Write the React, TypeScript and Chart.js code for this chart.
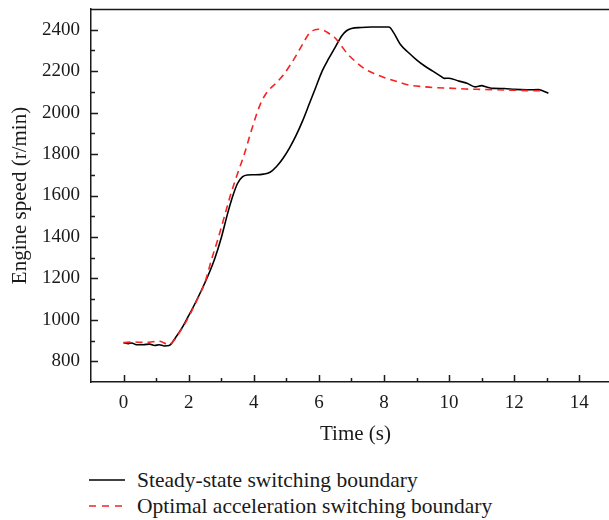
import React, { useEffect, useRef } from "react";
import { Chart, registerables } from "chart.js";

Chart.register(...registerables);

// Steady-state switching boundary (time s, engine speed r/min)
const steadyTime = [0, 0.15, 0.25, 0.4, 0.6, 0.8, 0.95, 1.1, 1.25, 1.4, 1.6, 1.8, 2.0, 2.2, 2.4, 2.6, 2.8, 3.0, 3.2, 3.35, 3.5, 3.65, 3.8, 4.0, 4.3, 4.5, 4.7, 4.9, 5.1, 5.3, 5.5, 5.7, 5.9, 6.1, 6.3, 6.5, 6.7, 6.85, 7.0, 7.3, 7.6, 7.9, 8.15, 8.3, 8.5, 8.75, 9.0, 9.25, 9.5, 9.75, 9.85, 10.0, 10.3, 10.55, 10.8, 11.0, 11.15, 11.35, 11.7, 12.0, 12.4, 12.75, 12.85, 13.05];
const steadySpeed = [890, 885, 888, 880, 880, 883, 876, 880, 874, 876, 915, 962, 1020, 1080, 1145, 1215, 1295, 1395, 1515, 1595, 1658, 1690, 1699, 1700, 1703, 1712, 1740, 1780, 1830, 1890, 1960, 2040, 2120, 2200, 2260, 2315, 2370, 2395, 2406, 2411, 2413, 2413, 2413, 2385, 2330, 2290, 2255, 2225, 2200, 2175, 2165, 2166, 2152, 2142, 2124, 2130, 2124, 2117, 2116, 2112, 2110, 2111, 2107, 2093];

// Optimal acceleration switching boundary
const optimalTime = [0, 0.3, 0.6, 0.9, 1.1, 1.25, 1.35, 1.5, 1.7, 1.9, 2.1, 2.3, 2.5, 2.7, 2.9, 3.1, 3.3, 3.5, 3.7, 3.9, 4.05, 4.2, 4.35, 4.5, 4.7, 4.9, 5.1, 5.3, 5.5, 5.7, 5.85, 6.0, 6.15, 6.3, 6.5, 6.7, 6.9, 7.1, 7.4, 7.7, 8.0, 8.4, 8.8, 9.2, 9.6, 10.0, 10.5, 11.0, 11.5, 12.0, 12.5, 12.9];
const optimalSpeed = [890, 893, 891, 894, 897, 888, 880, 892, 935, 985, 1045, 1110, 1180, 1290, 1390, 1500, 1610, 1705, 1795, 1900, 1975, 2040, 2085, 2115, 2145, 2180, 2225, 2275, 2330, 2382, 2398, 2402, 2397, 2383, 2360, 2320, 2280, 2250, 2212, 2188, 2170, 2150, 2132, 2125, 2120, 2118, 2114, 2112, 2110, 2108, 2106, 2105];

const xTicks = [0, 2, 4, 6, 8, 10, 12, 14];
const xMinorTicks = [1, 3, 5, 7, 9, 11, 13, 15];
const yTicks = [800, 1000, 1200, 1400, 1600, 1800, 2000, 2200, 2400];
const yMinorTicks = [900, 1100, 1300, 1500, 1700, 1900, 2100, 2300];

const seriesNames = ["Steady-state switching boundary", "Optimal acceleration switching boundary"];
const xTitle = "Time (s)";
const yTitle = "Engine speed (r/min)";

const FONT = "'Liberation Serif', 'Times New Roman', serif";
const AXIS_COLOR = "#1a1a1a";
const TEXT_COLOR = "#1a1a1a";
const RED = "rgb(245,35,35)";

const inwardTicks = {
  id: "inwardTicks",
  afterDraw(chart: any) {
    const { ctx, chartArea, scales } = chart;
    const xs = scales.x;
    const ys = scales.y;
    ctx.save();
    ctx.strokeStyle = AXIS_COLOR;
    ctx.lineWidth = 1.5;
    ctx.beginPath();
    // top border
    ctx.moveTo(chartArea.left, chartArea.top + 0.5);
    ctx.lineTo(chartArea.right, chartArea.top + 0.5);
    const b = chartArea.bottom;
    const l = chartArea.left;
    xTicks.forEach((v) => {
      const p = Math.round(xs.getPixelForValue(v)) + 0.5;
      ctx.moveTo(p, b);
      ctx.lineTo(p, b - 7);
    });
    xMinorTicks.forEach((v) => {
      const p = Math.round(xs.getPixelForValue(v)) + 0.5;
      ctx.moveTo(p, b);
      ctx.lineTo(p, b - 4);
    });
    yTicks.forEach((v) => {
      const p = Math.round(ys.getPixelForValue(v)) + 0.5;
      ctx.moveTo(l, p);
      ctx.lineTo(l + 7, p);
    });
    yMinorTicks.forEach((v) => {
      const p = Math.round(ys.getPixelForValue(v)) + 0.5;
      ctx.moveTo(l, p);
      ctx.lineTo(l + 4, p);
    });
    ctx.stroke();
    ctx.restore();
  },
};

function LegendRow({ dashed, color, label, top }: { dashed: boolean; color: string; label: string; top: number }) {
  return (
    <div style={{ position: "absolute", left: 0, top: top - 14, height: 28, width: 609 }}>
      <svg width={36} height={28} style={{ position: "absolute", left: 89, top: 0 }}>
        <line x1={0} y1={14} x2={36} y2={14} stroke={color} strokeWidth={1.5} strokeDasharray={dashed ? "7 6" : undefined} />
      </svg>
      <span
        style={{
          position: "absolute",
          left: 137,
          top: 0,
          lineHeight: "28px",
          fontFamily: FONT,
          fontSize: 21.5,
          color: TEXT_COLOR,
          whiteSpace: "nowrap",
        }}
      >
        {label}
      </span>
    </div>
  );
}

export default function App() {
  const canvasRef = useRef<HTMLCanvasElement | null>(null);

  useEffect(() => {
    if (!canvasRef.current) return;
    const chart = new Chart(canvasRef.current, {
      type: "line",
      data: {
        datasets: [
          {
            label: seriesNames[0],
            data: steadyTime.map((t, i) => ({ x: t, y: steadySpeed[i] })),
            borderColor: "#000000",
            borderWidth: 1.6,
            pointRadius: 0,
            tension: 0.3,
            cubicInterpolationMode: "monotone",
            fill: false,
            order: 2,
          },
          {
            label: seriesNames[1],
            data: optimalTime.map((t, i) => ({ x: t, y: optimalSpeed[i] })),
            borderColor: RED,
            borderWidth: 1.6,
            borderDash: [7, 5],
            pointRadius: 0,
            tension: 0.3,
            cubicInterpolationMode: "monotone",
            fill: false,
            order: 1,
          },
        ],
      },
      options: {
        animation: false,
        responsive: true,
        maintainAspectRatio: false,
        layout: { padding: { left: 0, right: 0, top: 9, bottom: 0 } },
        plugins: {
          legend: { display: false },
          tooltip: { enabled: false },
        },
        scales: {
          x: {
            type: "linear",
            min: -1,
            max: 15.25,
            afterBuildTicks: (scale: any) => {
              scale.ticks = xTicks.map((v) => ({ value: v }));
            },
            afterFit: (scale: any) => {
              scale.height = 68;
              scale.paddingLeft = 0;
              scale.paddingRight = 0;
            },
            grid: { display: false, drawTicks: false },
            border: { display: true, color: AXIS_COLOR, width: 1.5 },
            ticks: {
              padding: 10,
              color: TEXT_COLOR,
              font: { family: FONT, size: 19 },
              maxRotation: 0,
              autoSkip: false,
              callback: (v: any) => String(v),
            },
            title: {
              display: true,
              text: xTitle,
              color: TEXT_COLOR,
              font: { family: FONT, size: 21 },
              padding: { top: 0, bottom: 3 },
            },
          },
          y: {
            type: "linear",
            min: 700,
            max: 2500,
            afterBuildTicks: (scale: any) => {
              scale.ticks = yTicks.map((v) => ({ value: v }));
            },
            afterFit: (scale: any) => {
              scale.width = 91;
              scale.paddingTop = 0;
              scale.paddingBottom = 0;
            },
            grid: { display: false, drawTicks: false },
            border: { display: true, color: AXIS_COLOR, width: 1.5 },
            ticks: {
              padding: 11,
              color: TEXT_COLOR,
              font: { family: FONT, size: 19 },
              autoSkip: false,
              callback: (v: any) => String(v),
            },
            title: {
              display: true,
              text: yTitle,
              color: TEXT_COLOR,
              font: { family: FONT, size: 21 },
              padding: { top: 8, bottom: 0 },
            },
          },
        },
      },
      plugins: [inwardTicks],
    });
    return () => chart.destroy();
  }, []);

  return (
    <div style={{ position: "fixed", left: 0, top: 0, width: 609, height: 520, overflow: "hidden", background: "#fff" }}>
      <div style={{ position: "absolute", left: 0, top: 0, width: 620, height: 450 }}>
        <canvas ref={canvasRef} />
      </div>
      <LegendRow dashed={false} color="#000000" label={seriesNames[0]} top={480} />
      <LegendRow dashed={true} color={RED} label={seriesNames[1]} top={506} />
    </div>
  );
}
